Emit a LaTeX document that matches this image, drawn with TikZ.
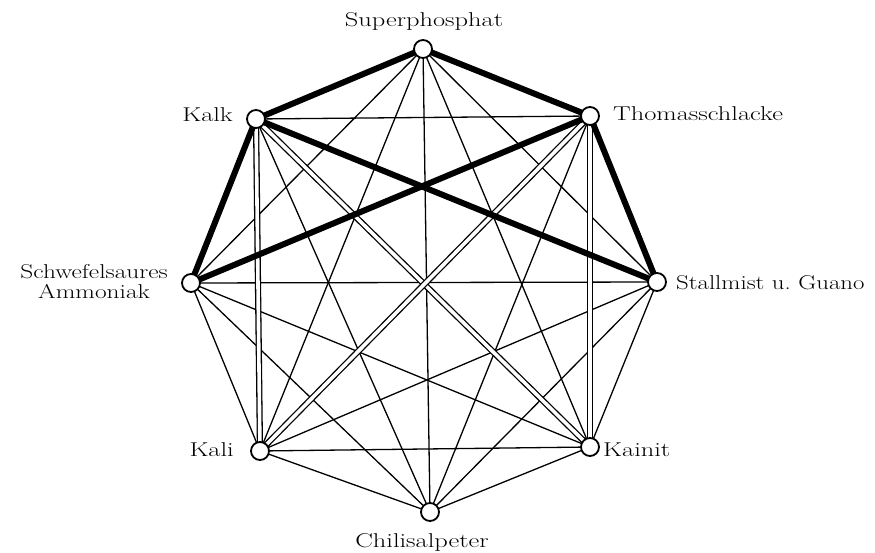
\documentclass[tikz,border=0pt]{standalone}
\usepackage{graphicx}
\usetikzlibrary{backgrounds}
\tikzset{
  pt/.style={circle,draw=black,line width=1.8pt,fill=white,minimum size=18pt,inner sep=0pt},
  lbl/.style={font=\fontsize{20}{20}\selectfont,inner sep=0pt,align=center},
  thinedge/.style={line width=1.3pt},
  thickedge/.style={line width=6pt},
  dbledge/.style={line width=1.3pt,double=white,double distance=3.6pt},
}
\newcommand{\widetxt}[2][1.32]{\scalebox{#1}[1]{#2}}
\begin{document}
\begin{tikzpicture}[x=1pt,y=-1pt]
\useasboundingbox (0,0) rectangle (875,553);
\node[pt] (S) at (423,49) {};
\node[pt] (T) at (590,116) {};
\node[pt] (G) at (657,282) {};
\node[pt] (N) at (590,447) {};
\node[pt] (C) at (430,512) {};
\node[pt] (L) at (260,451) {};
\node[pt] (A) at (191,283) {};
\node[pt] (K) at (256,119) {};
\begin{scope}[on background layer]
  \foreach \a/\b in {S/G,S/N,S/C,S/L,S/A,
                     T/K,T/C,
                     G/A,G/N,G/C,G/L,
                     N/C,N/L,N/A,
                     C/L,C/A,C/K,
                     L/A}
    \draw[thinedge] (\a.center) -- (\b.center);
  \foreach \a/\b in {K/L,K/N,T/L,T/N}
    \draw[dbledge] (\a.center) -- (\b.center);
  \foreach \a/\b in {S/K,S/T,K/A,K/G,T/A,T/G}
    \draw[thickedge] (\a.center) -- (\b.center);
\end{scope}
\node[lbl,anchor=base] (lS) at (424,27) {\widetxt{Superphosphat}};
\node[lbl,anchor=base east] (lK) at (233,122) {\widetxt{Kalk}};
\node[lbl,anchor=base west] (lT) at (613,121) {\widetxt{Thomasschlacke}};
\node[lbl,anchor=east] (lA) at (168,282) {\widetxt[1.27]{Schwefelsaures}\\\widetxt[1.27]{Ammoniak}};
\node[lbl,anchor=base west] (lG) at (676,290) {\widetxt[1.24]{Stallmist u.\ Guano}};
\node[lbl,anchor=base east] (lL) at (234,456) {\widetxt{Kali}};
\node[lbl,anchor=base west] (lN) at (603,456) {\widetxt{Kainit}};
\node[lbl,anchor=base] (lC) at (422,547) {\widetxt{Chilisalpeter}};
\end{tikzpicture}
\end{document}
